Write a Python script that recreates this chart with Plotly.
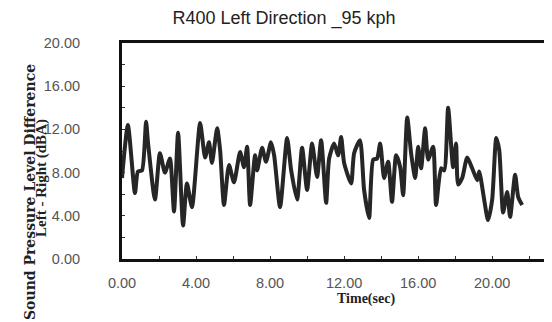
import plotly.graph_objects as go

# Time (sec) and sound pressure level difference (dBA)
time_sec = [0.00, 0.32, 0.70, 0.86, 1.08, 1.30, 1.41, 1.78, 2.05, 2.32, 2.59, 2.81,
            3.03, 3.30, 3.51, 3.78, 4.22, 4.49, 4.70, 4.86, 5.14, 5.30, 5.51, 5.78,
            6.05, 6.38, 6.59, 6.76, 6.92, 7.19, 7.30, 7.57, 7.78, 8.05, 8.22, 8.54,
            8.92, 9.14, 9.46, 9.73, 10.00, 10.27, 10.54, 10.76, 11.03, 11.19, 11.46,
            11.68, 11.84, 12.00, 12.38, 12.54, 12.86, 13.08, 13.35, 13.57, 13.78,
            13.95, 14.16, 14.38, 14.59, 14.81, 15.03, 15.19, 15.41, 15.62, 15.84,
            16.00, 16.16, 16.38, 16.54, 16.81, 16.97, 17.24, 17.41, 17.62, 17.89,
            18.05, 18.16, 18.38, 18.65, 18.92, 19.19, 19.30, 19.78, 20.00, 20.22,
            20.38, 20.59, 20.81, 20.97, 21.24, 21.41, 21.62]
spl_diff = [7.5, 12.4, 6.1, 8.1, 8.2, 12.7, 10.7, 5.5, 9.8, 8.0, 9.3, 4.4,
            11.7, 3.1, 7.0, 4.8, 12.6, 9.4, 10.8, 8.9, 12.1, 10.1, 5.0, 8.7,
            7.1, 9.9, 8.5, 10.4, 5.0, 9.6, 8.2, 10.3, 9.0, 10.8, 9.6, 4.8,
            11.2, 8.2, 5.5, 10.3, 6.4, 10.7, 7.6, 11.0, 5.2, 9.3, 10.7,
            9.6, 11.3, 8.9, 7.0, 9.8, 11.0, 6.4, 3.8, 9.2, 9.3,
            10.7, 7.5, 9.0, 5.3, 9.6, 8.5, 5.9, 13.1, 9.8, 7.5,
            10.4, 8.4, 12.1, 9.2, 10.4, 5.0, 8.4, 8.2, 14.0, 8.5,
            10.7, 6.9, 7.5, 9.4, 8.4, 7.3, 8.1, 3.6, 5.5, 11.2,
            10.1, 4.3, 6.2, 3.9, 7.8, 5.7, 5.0]

x_ticks = [0, 4, 8, 12, 16, 20]
y_ticks = [0, 4, 8, 12, 16, 20]

y_title_lines = ["<b>Sound Pressure Level Difference</b>", "<b>Left - Right (dBA)</b>"]

# page body has an 8px margin; figure is sized/offset to compensate
W, H = 544, 314
OFF = 8
L, T = 122 - OFF, 43 - OFF
PW, PH = 422, 216

fig = go.Figure()
fig.add_trace(go.Scatter(
    x=time_sec, y=spl_diff, mode="lines",
    line=dict(color="#262626", width=4, shape="spline", smoothing=0.6),
    showlegend=False, hoverinfo="skip"))

axis_common = dict(
    showline=True, linecolor="#111", linewidth=3, mirror=True,
    showgrid=False, zeroline=False,
    ticks="inside", ticklen=3, tickcolor="#333", tickwidth=1,
    tickformat=".2f",
    tickfont=dict(family="Liberation Sans, Arial", size=14.5, color="#555"),
    minor=dict(ticks="inside", ticklen=3, tickcolor="#333", dtick=2),
)

fig.update_xaxes(range=[0, 22.8], tickvals=x_ticks, ticklabelstandoff=9, **axis_common)
fig.update_yaxes(range=[0, 20], tickvals=y_ticks, ticklabelstandoff=36, **axis_common)

annots = [
    dict(text="<b>Time(sec)</b>", xref="paper", yref="paper",
         x=(366 - 122) / PW, y=-(299 - 259) / PH, xanchor="center", yanchor="middle",
         showarrow=False,
         font=dict(family="Liberation Serif, Times New Roman", size=14, color="#222")),
]
y_title_specs = [  # (text, center x px, center y px, font family, size)
    (y_title_lines[0], 30, 192, "DejaVu Serif", 14),
    (y_title_lines[1], 41, 178, "Liberation Serif", 15),
]
for txt, xc, yc, fam, sz in y_title_specs:
    annots.append(dict(text=txt, xref="paper", yref="paper", textangle=-90,
                       x=-(122 - xc) / PW, y=(259 - yc) / PH,
                       xanchor="center", yanchor="middle", showarrow=False,
                       font=dict(family=fam, size=sz, color="#222")))

fig.update_layout(
    width=W, height=H,
    margin=dict(l=L, r=W - L - PW, t=T, b=H - T - PH, autoexpand=False),
    paper_bgcolor="white", plot_bgcolor="white",
    title=dict(text="R400 Left Direction _95 kph", x=(284 - OFF) / W, xanchor="center",
               y=1 - (18 - OFF) / H, yanchor="middle",
               font=dict(family="Liberation Sans, Arial", size=18, color="#222")),
    annotations=annots,
)

fig.write_html("out.html")
